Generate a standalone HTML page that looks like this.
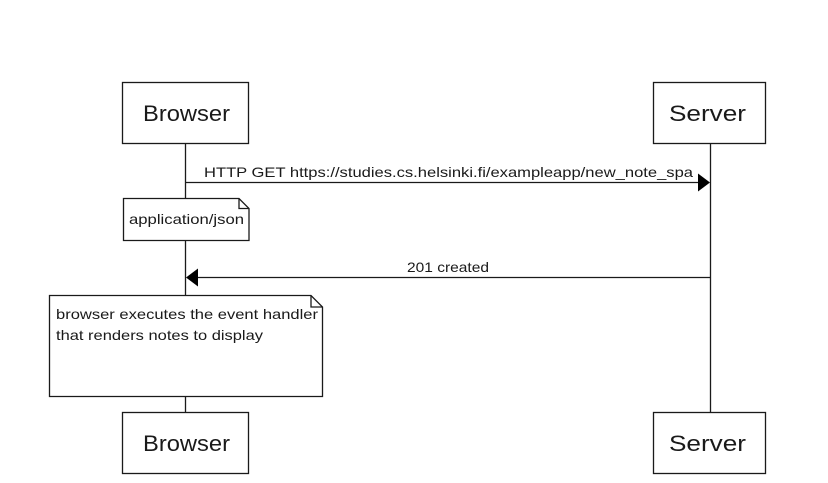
<!DOCTYPE html>
<html><head><meta charset="utf-8"><style>
html,body{margin:0;padding:0;background:#fff;}
svg{display:block;}
text{font-family:"Liberation Sans",Arial,sans-serif;fill:#1a1a1a;}
</style></head><body>
<svg width="828" height="483" viewBox="0 0 828 483" xmlns="http://www.w3.org/2000/svg">
<g stroke="#1a1a1a" stroke-width="1.3" fill="none">
<line x1="185.5" y1="143" x2="185.5" y2="412"/>
<line x1="710.5" y1="143" x2="710.5" y2="412"/>
</g>
<g stroke="#1a1a1a" stroke-width="1.3" fill="#fff">
<rect x="122.5" y="82.5" width="126" height="61"/>
<rect x="653.5" y="82.5" width="112" height="61"/>
<rect x="122.5" y="412.5" width="126" height="61"/>
<rect x="653.5" y="412.5" width="112" height="61"/>
<path d="M123.5 198.5 H239 L249 208.5 V240.5 H123.5 Z"/>
<path d="M239 198.5 V208.5 H249" fill="none"/>
<path d="M49.5 295.5 H311 L322.5 307 V396.5 H49.5 Z"/>
<path d="M311 295.5 V307 H322.5" fill="none"/>
</g>
<g stroke="#1a1a1a" stroke-width="1.3">
<line x1="186" y1="182.5" x2="700" y2="182.5"/>
<line x1="198" y1="277.5" x2="710" y2="277.5"/>
</g>
<polygon points="710,182.5 698,173.5 698,191.5" fill="#000"/>
<polygon points="186,277.5 198,268.5 198,286.5" fill="#000"/>
<g font-size="22" lengthAdjust="spacingAndGlyphs">
<text x="143" y="121" textLength="87" lengthAdjust="spacingAndGlyphs">Browser</text>
<text x="669" y="121" textLength="77" lengthAdjust="spacingAndGlyphs">Server</text>
<text x="143" y="451" textLength="87" lengthAdjust="spacingAndGlyphs">Browser</text>
<text x="669" y="451" textLength="77" lengthAdjust="spacingAndGlyphs">Server</text>
</g>
<g font-size="14">
<text x="204" y="177" textLength="489" lengthAdjust="spacingAndGlyphs">HTTP GET https://studies.cs.helsinki.fi/exampleapp/new_note_spa</text>
<text x="407" y="272" textLength="82" lengthAdjust="spacingAndGlyphs">201 created</text>
<text x="129" y="224" textLength="115" lengthAdjust="spacingAndGlyphs">application/json</text>
<text x="56" y="319" textLength="262" lengthAdjust="spacingAndGlyphs">browser executes the event handler</text>
<text x="56" y="340" textLength="207" lengthAdjust="spacingAndGlyphs">that renders notes to display</text>
</g>
</svg>
</body></html>
